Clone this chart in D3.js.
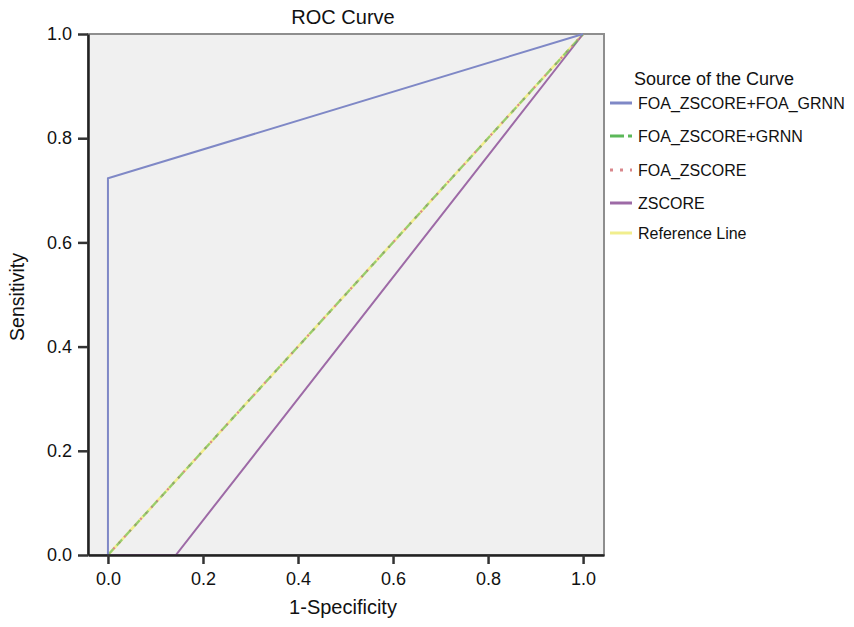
<!DOCTYPE html>
<html>
<head>
<meta charset="utf-8">
<script src="https://cdn.jsdelivr.net/npm/d3@7"></script>
<style>
  body { margin: 0; background: #fff; }
  text { font-family: "Liberation Sans", Arial, sans-serif; fill: #111; }
</style>
</head>
<body>
<div id="chart"></div>
<script>
// ROC points (1-specificity, sensitivity)
const seriesNames = ["FOA_ZSCORE+FOA_GRNN", "FOA_ZSCORE+GRNN", "FOA_ZSCORE", "ZSCORE", "Reference Line"];
const foaZscoreFoaGrnnX = [0, 0, 1];
const foaZscoreFoaGrnnY = [0, 0.723, 1];
const foaZscoreGrnnX = [0, 1];
const foaZscoreGrnnY = [0, 1];
const foaZscoreX = [0, 1];
const foaZscoreY = [0, 1];
const zscoreX = [0, 0.143, 1];
const zscoreY = [0, 0, 1];
const referenceX = [0, 1];
const referenceY = [0, 1];
const tickValues = [0, 0.2, 0.4, 0.6, 0.8, 1.0];

const toPoints = (xs, ys) => xs.map((x, i) => [x, ys[i]]);

const styles = {
  "FOA_ZSCORE+FOA_GRNN": { color: "#7f88c6", dash: null, width: 2 },
  "FOA_ZSCORE+GRNN": { color: "#5cb85a", dash: "8,5", width: 2.2 },
  "FOA_ZSCORE": { color: "#d9878c", dash: "2,6", width: 2.2 },
  "ZSCORE": { color: "#9d6aa6", dash: null, width: 2 },
  "Reference Line": { color: "#f1ee8e", dash: null, width: 2.6 }
};

const series = {
  "FOA_ZSCORE+FOA_GRNN": toPoints(foaZscoreFoaGrnnX, foaZscoreFoaGrnnY),
  "FOA_ZSCORE+GRNN": toPoints(foaZscoreGrnnX, foaZscoreGrnnY),
  "FOA_ZSCORE": toPoints(foaZscoreX, foaZscoreY),
  "ZSCORE": toPoints(zscoreX, zscoreY),
  "Reference Line": toPoints(referenceX, referenceY)
};

const W = 854, H = 627;
const plot = { left: 88, right: 604, top: 34, bottom: 555 };

const svg = d3.select("#chart").append("svg")
  .attr("width", W)
  .attr("height", H);

const x = d3.scaleLinear().domain([-0.042, 1.044]).range([plot.left, plot.right]);
const y = d3.scaleLinear().domain([0, 1]).range([plot.bottom, plot.top]);

// plot background + light frame (top/right)
svg.append("rect")
  .attr("x", plot.left).attr("y", plot.top)
  .attr("width", plot.right - plot.left).attr("height", plot.bottom - plot.top)
  .attr("fill", "#f0f0f0")
  .attr("stroke", "#8e8e8e")
  .attr("stroke-width", 2);

// lines, reference first so the others sit on top
const line = d3.line().x(d => x(d[0])).y(d => y(d[1]));
const drawOrder = ["Reference Line", "ZSCORE", "FOA_ZSCORE", "FOA_ZSCORE+GRNN", "FOA_ZSCORE+FOA_GRNN"];
svg.append("g")
  .selectAll("path")
  .data(drawOrder)
  .join("path")
  .attr("d", name => line(series[name]))
  .attr("fill", "none")
  .attr("stroke", name => styles[name].color)
  .attr("stroke-width", name => styles[name].width)
  .attr("stroke-dasharray", name => styles[name].dash)
  .attr("stroke-opacity", name => name === "FOA_ZSCORE+GRNN" ? 0.6 : 1);

// axes
const xAxis = svg.append("g")
  .attr("transform", `translate(0,${plot.bottom})`)
  .call(d3.axisBottom(x).tickValues(tickValues).tickFormat(d3.format(".1f")).tickSize(9).tickSizeOuter(0).tickPadding(8));
const yAxis = svg.append("g")
  .attr("transform", `translate(${plot.left},0)`)
  .call(d3.axisLeft(y).tickValues(tickValues).tickFormat(d3.format(".1f")).tickSize(10).tickSizeOuter(0).tickPadding(6));

[xAxis, yAxis].forEach(g => {
  g.select(".domain").attr("stroke", "#222").attr("stroke-width", 2.5);
  g.selectAll(".tick line").attr("stroke", "#333").attr("stroke-width", 2.5);
  g.selectAll(".tick text")
    .attr("font-size", 18)
    .attr("font-family", "Liberation Sans, Arial, sans-serif")
    .attr("fill", "#111");
});

// titles
svg.append("text")
  .attr("x", 343).attr("y", 24)
  .attr("text-anchor", "middle")
  .attr("font-size", 20)
  .text("ROC Curve");

svg.append("text")
  .attr("x", 343).attr("y", 614)
  .attr("text-anchor", "middle")
  .attr("font-size", 20)
  .text("1-Specificity");

svg.append("text")
  .attr("transform", "translate(24,297) rotate(-90)")
  .attr("text-anchor", "middle")
  .attr("font-size", 19.5)
  .text("Sensitivity");

// legend
const legend = svg.append("g");
legend.append("text")
  .attr("x", 634).attr("y", 79)
  .attr("dy", "0.35em")
  .attr("font-size", 18)
  .text("Source of the Curve");

const legendY = [103, 136, 170, 203, 233];
const item = legend.selectAll("g.item")
  .data(seriesNames)
  .join("g")
  .attr("class", "item")
  .attr("transform", (d, i) => `translate(0,${legendY[i]})`);

item.append("line")
  .attr("x1", 610).attr("x2", 632)
  .attr("stroke", d => styles[d].color)
  .attr("stroke-width", 3)
  .attr("stroke-dasharray", d => d === "FOA_ZSCORE" ? "3,7" : d === "FOA_ZSCORE+GRNN" ? "14,4" : null);

item.append("text")
  .attr("x", 638)
  .attr("dy", "0.35em")
  .attr("font-size", 16)
  .text(d => d);
</script>
</body>
</html>
